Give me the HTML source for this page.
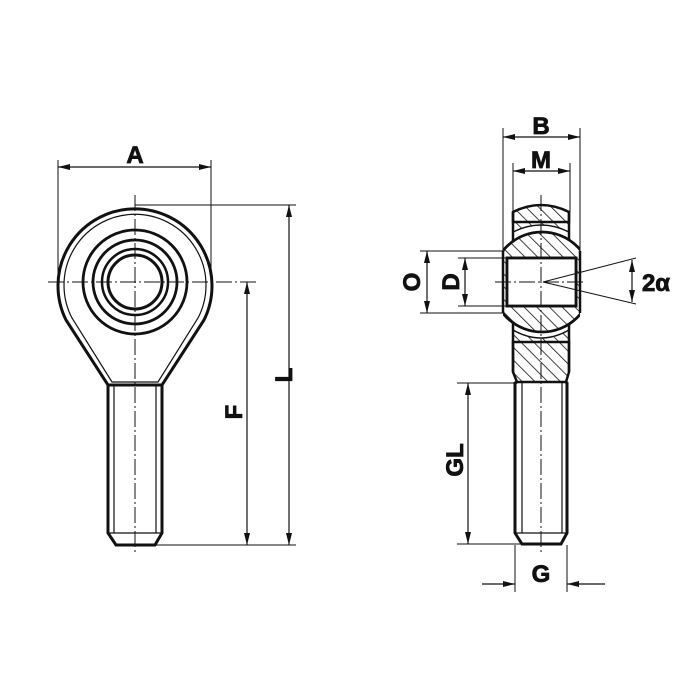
<!DOCTYPE html>
<html><head><meta charset="utf-8"><style>html,body{margin:0;padding:0;background:#fff}svg{display:block}</style></head>
<body>
<svg width="700" height="700" viewBox="0 0 700 700" xmlns="http://www.w3.org/2000/svg">
<defs>
<marker id="ar" viewBox="0 0 12 6" refX="12" refY="3" markerWidth="12" markerHeight="6" orient="auto-start-reverse" markerUnits="userSpaceOnUse"><path d="M0,0 L12,3 L0,6 z" fill="#111"/></marker>
<pattern id="h" width="9" height="9" patternUnits="userSpaceOnUse" patternTransform="rotate(-45)"><line x1="0" y1="0" x2="0" y2="9" stroke="#111" stroke-width="1.6"/></pattern>
<clipPath id="ballc"><rect x="503" y="220" width="77" height="130"/></clipPath>
</defs>
<g fill="none" stroke="#111" font-family="Liberation Sans, sans-serif">
<!-- LEFT VIEW -->
<path d="M108,385 L162,385 L204,320 A77,77 0 1 0 66,320 Z" stroke-width="3"/>
<path d="M112,382 L158,382 L198,318 A71,71 0 1 0 72,318 Z" stroke-width="1.2"/>
<circle cx="135" cy="282" r="52" stroke-width="2.8"/>
<circle cx="135" cy="282" r="42" stroke-width="2.8"/>
<circle cx="135" cy="282" r="33" stroke-width="2.5"/>
<circle cx="135" cy="282" r="27" stroke-width="3"/>
<path d="M108,385 L108,533 L116,545 L155,545 L162,533 L162,385" stroke-width="3"/>
<line x1="114" y1="385" x2="114" y2="533" stroke-width="1.2"/>
<line x1="156" y1="385" x2="156" y2="533" stroke-width="1.2"/>
<line x1="108" y1="533" x2="162" y2="533" stroke-width="1.2"/>
<line x1="135" y1="195" x2="135" y2="555" stroke-width="1" stroke-dasharray="16,3,2,3"/>
<line x1="48" y1="282" x2="258" y2="282" stroke-width="1" stroke-dasharray="16,3,2,3"/>
<line x1="58" y1="160" x2="58" y2="282" stroke-width="1"/>
<line x1="211" y1="160" x2="211" y2="282" stroke-width="1"/>
<line x1="58" y1="167" x2="211" y2="167" stroke-width="1.2" marker-start="url(#ar)" marker-end="url(#ar)"/>
<line x1="135" y1="205" x2="296" y2="205" stroke-width="1"/>
<line x1="150" y1="545" x2="296" y2="545" stroke-width="1"/>
<line x1="289" y1="205" x2="289" y2="545" stroke-width="1.2" marker-start="url(#ar)" marker-end="url(#ar)"/>
<line x1="247" y1="282" x2="247" y2="545" stroke-width="1.2" marker-start="url(#ar)" marker-end="url(#ar)"/>

<!-- RIGHT VIEW -->
<path d="M513,222 L513,212 Q541,198 569,212 L569,222 Z" fill="url(#h)" stroke-width="2.5"/>
<path d="M513,222 L569,222 L569,232 Q541,218 513,232 Z" fill="url(#h)" stroke-width="1.5"/>
<path d="M513,330 Q541,346 569,330 L569,342 L513,342 Z" fill="url(#h)" stroke-width="1.5"/>
<path d="M513,342 L569,342 L569,372 L566,382 L517,382 L513,372 Z" fill="url(#h)" stroke-width="2.5"/>
<line x1="513" y1="212" x2="513" y2="372" stroke-width="2.5"/>
<line x1="569" y1="212" x2="569" y2="372" stroke-width="2.5"/>
<g clip-path="url(#ballc)">
<path d="M492,282 A50,50 0 0 1 592,282 A50,50 0 0 1 492,282 Z M507,258 L507,306 L576,306 L576,258 Z" fill="#fff" fill-rule="evenodd" stroke="none"/>
<path d="M492,282 A50,50 0 0 1 592,282 A50,50 0 0 1 492,282 Z M507,258 L507,306 L576,306 L576,258 Z" fill="url(#h)" fill-rule="evenodd" stroke-width="2.8"/>
</g>
<line x1="503" y1="251" x2="503" y2="313" stroke-width="2.5"/>
<line x1="580" y1="251" x2="580" y2="313" stroke-width="2.5"/>
<rect x="507" y="258" width="69" height="48" fill="#fff" stroke-width="2.8"/>
<path d="M517,382 L515,383 L515,533 L522,544 L561,544 L567,533 L567,383 L566,382" stroke-width="3"/>
<line x1="522" y1="383" x2="522" y2="533" stroke-width="1.2"/>
<line x1="562" y1="383" x2="562" y2="533" stroke-width="1.2"/>
<line x1="515" y1="533" x2="567" y2="533" stroke-width="1.2"/>
<line x1="541" y1="195" x2="541" y2="555" stroke-width="1" stroke-dasharray="16,3,2,3"/>
<line x1="495" y1="282" x2="585" y2="282" stroke-width="1" stroke-dasharray="16,3,2,3"/>
<line x1="543" y1="282" x2="636" y2="258" stroke-width="1"/>
<line x1="543" y1="282" x2="636" y2="304" stroke-width="1"/>
<line x1="632" y1="260" x2="632" y2="302" stroke-width="1.2" marker-start="url(#ar)" marker-end="url(#ar)"/>
<line x1="503" y1="128" x2="503" y2="251" stroke-width="1"/>
<line x1="580" y1="128" x2="580" y2="251" stroke-width="1"/>
<line x1="503" y1="137" x2="580" y2="137" stroke-width="1.2" marker-start="url(#ar)" marker-end="url(#ar)"/>
<line x1="513" y1="163" x2="513" y2="212" stroke-width="1"/>
<line x1="570" y1="163" x2="570" y2="212" stroke-width="1"/>
<line x1="513" y1="171" x2="570" y2="171" stroke-width="1.2" marker-start="url(#ar)" marker-end="url(#ar)"/>
<line x1="420" y1="251" x2="503" y2="251" stroke-width="1"/>
<line x1="420" y1="313" x2="503" y2="313" stroke-width="1"/>
<line x1="427" y1="251" x2="427" y2="313" stroke-width="1.2" marker-start="url(#ar)" marker-end="url(#ar)"/>
<line x1="458" y1="258" x2="507" y2="258" stroke-width="1"/>
<line x1="458" y1="306" x2="507" y2="306" stroke-width="1"/>
<line x1="465" y1="258" x2="465" y2="306" stroke-width="1.2" marker-start="url(#ar)" marker-end="url(#ar)"/>
<line x1="457" y1="383" x2="515" y2="383" stroke-width="1"/>
<line x1="457" y1="544" x2="522" y2="544" stroke-width="1"/>
<line x1="468" y1="383" x2="468" y2="544" stroke-width="1.2" marker-start="url(#ar)" marker-end="url(#ar)"/>
<line x1="515" y1="545" x2="515" y2="592" stroke-width="1"/>
<line x1="567" y1="545" x2="567" y2="592" stroke-width="1"/>
<line x1="482" y1="584" x2="515" y2="584" stroke-width="1.2" marker-end="url(#ar)"/>
<line x1="605" y1="584" x2="567" y2="584" stroke-width="1.2" marker-end="url(#ar)"/>
</g>
<g fill="#111" stroke="#111" stroke-width="0.8" font-family="Liberation Sans, sans-serif" font-weight="bold" font-size="24" text-anchor="middle">
<text x="135" y="163">A</text>
<text x="541" y="134">B</text>
<text x="541" y="168">M</text>
<text x="541" y="582">G</text>
<text x="656" y="291">2α</text>
<text transform="translate(292,375) rotate(-90)">L</text>
<text transform="translate(242,412) rotate(-90)">F</text>
<text transform="translate(420,282) rotate(-90)">O</text>
<text transform="translate(459,282) rotate(-90)">D</text>
<text transform="translate(463,460) rotate(-90)">GL</text>
</g>
</svg>
</body></html>
